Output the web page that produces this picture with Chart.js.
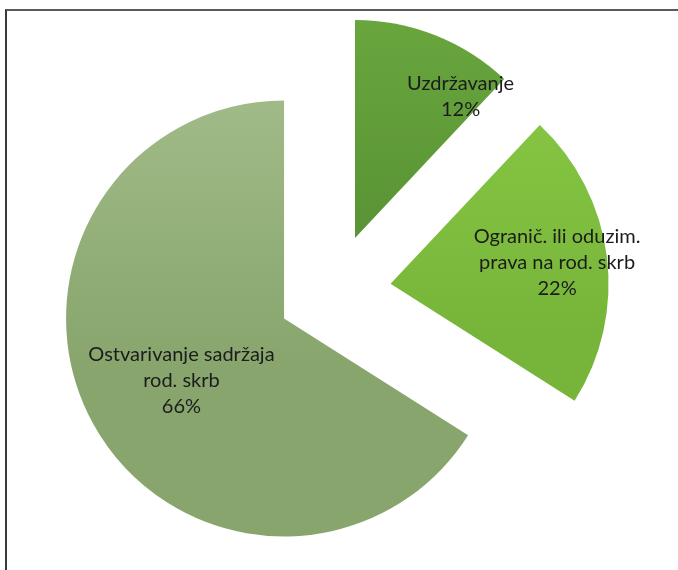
<!DOCTYPE html>
<html>
<head>
<meta charset="utf-8">
<script src="https://cdn.jsdelivr.net/npm/chart.js@4.4.0/dist/chart.umd.min.js"></script>
<style>
  html, body { margin: 0; padding: 0; background: #fff; }
  #wrap { position: relative; width: 678px; height: 570px; overflow: hidden; }
  #frame { position: absolute; left: 5px; top: 9px; width: 700px; height: 600px;
           border-top: 2px solid #5a5a5a; border-left: 2px solid #3a3a3a; }
  canvas { position: absolute; left: 0; top: 0; }
</style>
</head>
<body>
<div id="wrap">
  <div id="frame"></div>
  <canvas id="myChart1" width="678" height="570"></canvas>
</div>
<script>
// categories and shares (percent)
const categories = [
    ['Uzdržavanje'],
    ['Ograni\u010d. ili oduzim.', 'prava na rod. skrb'],
    ['Ostvarivanje sadržaja', 'rod. skrb']
];
const shares = [12, 22, 66];
// light / dark end of each slice's shading
const sliceColors = [['#6aa83e', '#568f33'], ['#8acb45', '#77b53a'], ['#a3bd8a', '#88a56d']];

// how far every slice is pulled out of the centre, px
const explode = 57;
// where the label sits inside each slice (radius fraction, angle fraction)
const labelAt = [[0.81, 0.85], [0.77, 0.5], [0.55, 0.49]];

function sliceFill(c) {
    const area = c.chart.chartArea;
    if (!area) return sliceColors[c.dataIndex][1];
    const g = c.chart.ctx.createLinearGradient(0, area.top, 0, area.bottom);
    g.addColorStop(0, sliceColors[c.dataIndex][0]);
    g.addColorStop(0.6, sliceColors[c.dataIndex][1]);
    g.addColorStop(1, sliceColors[c.dataIndex][1]);
    return g;
}

// chart.js grows the radius of offset slices, so pull them out by hand instead
const explodeSlices = {
    id: 'explodeSlices',
    beforeDatasetsDraw(chart) {
        chart.getDatasetMeta(0).data.forEach(function (arc) {
            if (arc._exploded) return;
            const draw = arc.draw;
            arc.draw = function (ctx) {
                const mid = (this.startAngle + this.endAngle) / 2;
                ctx.save();
                ctx.translate(Math.cos(mid) * explode, Math.sin(mid) * explode);
                draw.call(this, ctx);
                ctx.restore();
            };
            arc._exploded = true;
        });
    }
};

const sliceLabels = {
    id: 'sliceLabels',
    afterDatasetsDraw(chart) {
        const ctx = chart.ctx;
        const meta = chart.getDatasetMeta(0);
        ctx.save();
        ctx.font = '20px Lato';
        ctx.fillStyle = '#1c1c1c';
        ctx.textAlign = 'center';
        ctx.textBaseline = 'middle';
        meta.data.forEach(function (arc, i) {
            const p = arc.getProps(['x', 'y', 'startAngle', 'endAngle', 'outerRadius'], true);
            const mid = (p.startAngle + p.endAngle) / 2;
            const cx = p.x + Math.cos(mid) * explode;
            const cy = p.y + Math.sin(mid) * explode;
            const a = p.startAngle + (p.endAngle - p.startAngle) * labelAt[i][1];
            const r = p.outerRadius * labelAt[i][0];
            const lx = cx + Math.cos(a) * r;
            const ly = cy + Math.sin(a) * r;
            const lines = categories[i].concat([shares[i] + '%']);
            const lh = 26;
            lines.forEach(function (t, k) {
                ctx.fillText(t, lx, ly + (k - (lines.length - 1) / 2) * lh);
            });
        });
        ctx.restore();
    }
};

function createChart(d)
{
    const ctx = document.getElementById('myChart1');

    window.myChart = new Chart(ctx, {
        type: 'pie',
        data: {
            labels: categories.map(function (c) { return c.join(' '); }),
            datasets: [{
                data: d,
                backgroundColor: sliceFill,
                borderWidth: 0
            }]
        },
        options: {
            responsive: false,
            animation: false,
            radius: 218,
            layout: { padding: { left: 0, right: 10, top: 45, bottom: 33 } },
            plugins: {
                legend: { display: false },
                tooltip: { enabled: false }
            }
        },
        plugins: [explodeSlices, sliceLabels]
    });
}

createChart(shares);
</script>
</body>
</html>
